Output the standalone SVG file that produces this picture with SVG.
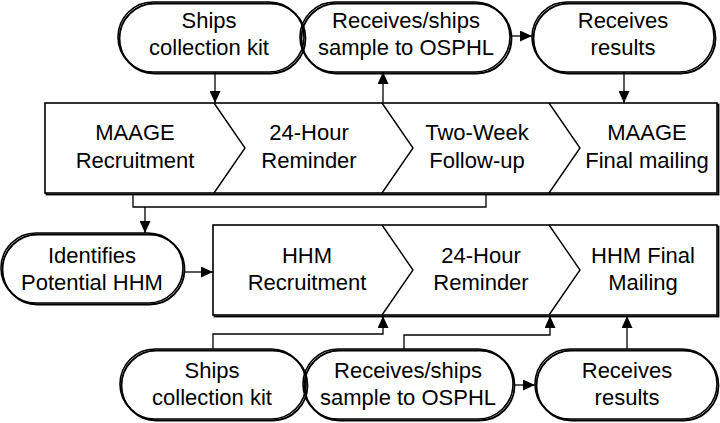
<svg xmlns="http://www.w3.org/2000/svg" width="720" height="423" viewBox="0 0 720 423">
<style>
  .pill{fill:none;stroke:#000;stroke-width:1.6}
  .shadow{fill:none;stroke:#000;stroke-width:1.8}
  .box{fill:#fff;stroke:#000;stroke-width:1.6}
  .div{fill:none;stroke:#000;stroke-width:1.4}
  .conn{fill:none;stroke:#000;stroke-width:1.3}
  text{font-family:"Liberation Sans",Arial,sans-serif;font-size:22px;fill:#000;text-anchor:middle}
</style>
<defs>
  <marker id="arr" markerUnits="userSpaceOnUse" markerWidth="12" markerHeight="11" refX="12" refY="5.5" orient="auto">
    <path d="M0,0 L12,5.5 L0,11 Z" fill="#000"/>
  </marker>
</defs>
<rect width="720" height="423" fill="#fff"/>

<g id="maage-box">
  <rect x="46.5" y="104.5" width="672" height="90" class="shadow"/>
  <rect x="45" y="103" width="672" height="90" class="box"/>
  <polyline points="214,103 245,148 214,193" class="div"/>
  <polyline points="382,103 413,148 382,193" class="div"/>
  <polyline points="549,103 580,148 549,193" class="div"/>
  <text x="135" y="140">MAAGE</text>
  <text x="135" y="168">Recruitment</text>
  <text x="309" y="140">24-Hour</text>
  <text x="309" y="168">Reminder</text>
  <text x="477" y="140">Two-Week</text>
  <text x="477" y="168">Follow-up</text>
  <text x="647" y="140">MAAGE</text>
  <text x="647" y="168">Final mailing</text>
</g>

<g id="hhm-box">
  <rect x="214.5" y="226.5" width="504" height="90" class="shadow"/>
  <rect x="213" y="225" width="504" height="90" class="box"/>
  <polyline points="382,225 413,270 382,315" class="div"/>
  <polyline points="549,225 580,270 549,315" class="div"/>
  <text x="307" y="263">HHM</text>
  <text x="307" y="290">Recruitment</text>
  <text x="481" y="263">24-Hour</text>
  <text x="481" y="290">Reminder</text>
  <text x="643" y="263">HHM Final</text>
  <text x="643" y="290">Mailing</text>
</g>

<g id="top-ships">
  <rect x="119.5" y="3.5" width="186" height="70" rx="35" ry="35" class="shadow"/>
  <rect x="118" y="2" width="186" height="70" rx="35" ry="35" class="pill"/>
  <text x="209" y="28">Ships</text>
  <text x="209" y="55">collection kit</text>
</g>
<g id="top-receives-ships">
  <rect x="301.5" y="3.5" width="210" height="70" rx="35" ry="35" class="shadow"/>
  <rect x="300" y="2" width="210" height="70" rx="35" ry="35" class="pill"/>
  <text x="406" y="28">Receives/ships</text>
  <text x="406" y="55">sample to OSPHL</text>
</g>
<g id="top-receives-results">
  <rect x="533.5" y="3.5" width="182" height="70" rx="35" ry="35" class="shadow"/>
  <rect x="532" y="2" width="182" height="70" rx="35" ry="35" class="pill"/>
  <text x="623" y="28">Receives</text>
  <text x="623" y="55">results</text>
</g>
<g id="identifies">
  <rect x="2.5" y="234.5" width="182" height="70" rx="35" ry="35" class="shadow"/>
  <rect x="1" y="233" width="182" height="70" rx="35" ry="35" class="pill"/>
  <text x="92" y="263">Identifies</text>
  <text x="92" y="290">Potential HHM</text>
</g>
<g id="bottom-ships">
  <rect x="121.5" y="350.5" width="186" height="70" rx="35" ry="35" class="shadow"/>
  <rect x="120" y="349" width="186" height="70" rx="35" ry="35" class="pill"/>
  <text x="212" y="378">Ships</text>
  <text x="212" y="405">collection kit</text>
</g>
<g id="bottom-receives-ships">
  <rect x="304.5" y="350.5" width="210" height="70" rx="35" ry="35" class="shadow"/>
  <rect x="303" y="349" width="210" height="70" rx="35" ry="35" class="pill"/>
  <text x="408" y="378">Receives/ships</text>
  <text x="408" y="405">sample to OSPHL</text>
</g>
<g id="bottom-receives-results">
  <rect x="536.5" y="350.5" width="182" height="70" rx="35" ry="35" class="shadow"/>
  <rect x="535" y="349" width="182" height="70" rx="35" ry="35" class="pill"/>
  <text x="627" y="378">Receives</text>
  <text x="627" y="405">results</text>
</g>

<g id="connectors">
  <line x1="215" y1="72" x2="215" y2="103" class="conn" marker-end="url(#arr)"/>
  <line x1="383" y1="103" x2="383" y2="72" class="conn" marker-end="url(#arr)"/>
  <line x1="511" y1="36" x2="532" y2="36" class="conn" marker-end="url(#arr)"/>
  <line x1="624" y1="72" x2="624" y2="103" class="conn" marker-end="url(#arr)"/>
  <polyline points="133,194 133,207 486,207 486,194" class="conn"/>
  <line x1="145" y1="207" x2="145" y2="233" class="conn" marker-end="url(#arr)"/>
  <line x1="184" y1="272" x2="213" y2="272" class="conn" marker-end="url(#arr)"/>
  <polyline points="213,349 213,334 383,334 383,316" class="conn" marker-end="url(#arr)"/>
  <polyline points="404,349 404,335 550,335 550,316" class="conn" marker-end="url(#arr)"/>
  <line x1="514" y1="385" x2="535" y2="385" class="conn" marker-end="url(#arr)"/>
  <line x1="627" y1="349" x2="627" y2="316" class="conn" marker-end="url(#arr)"/>
</g>
</svg>
